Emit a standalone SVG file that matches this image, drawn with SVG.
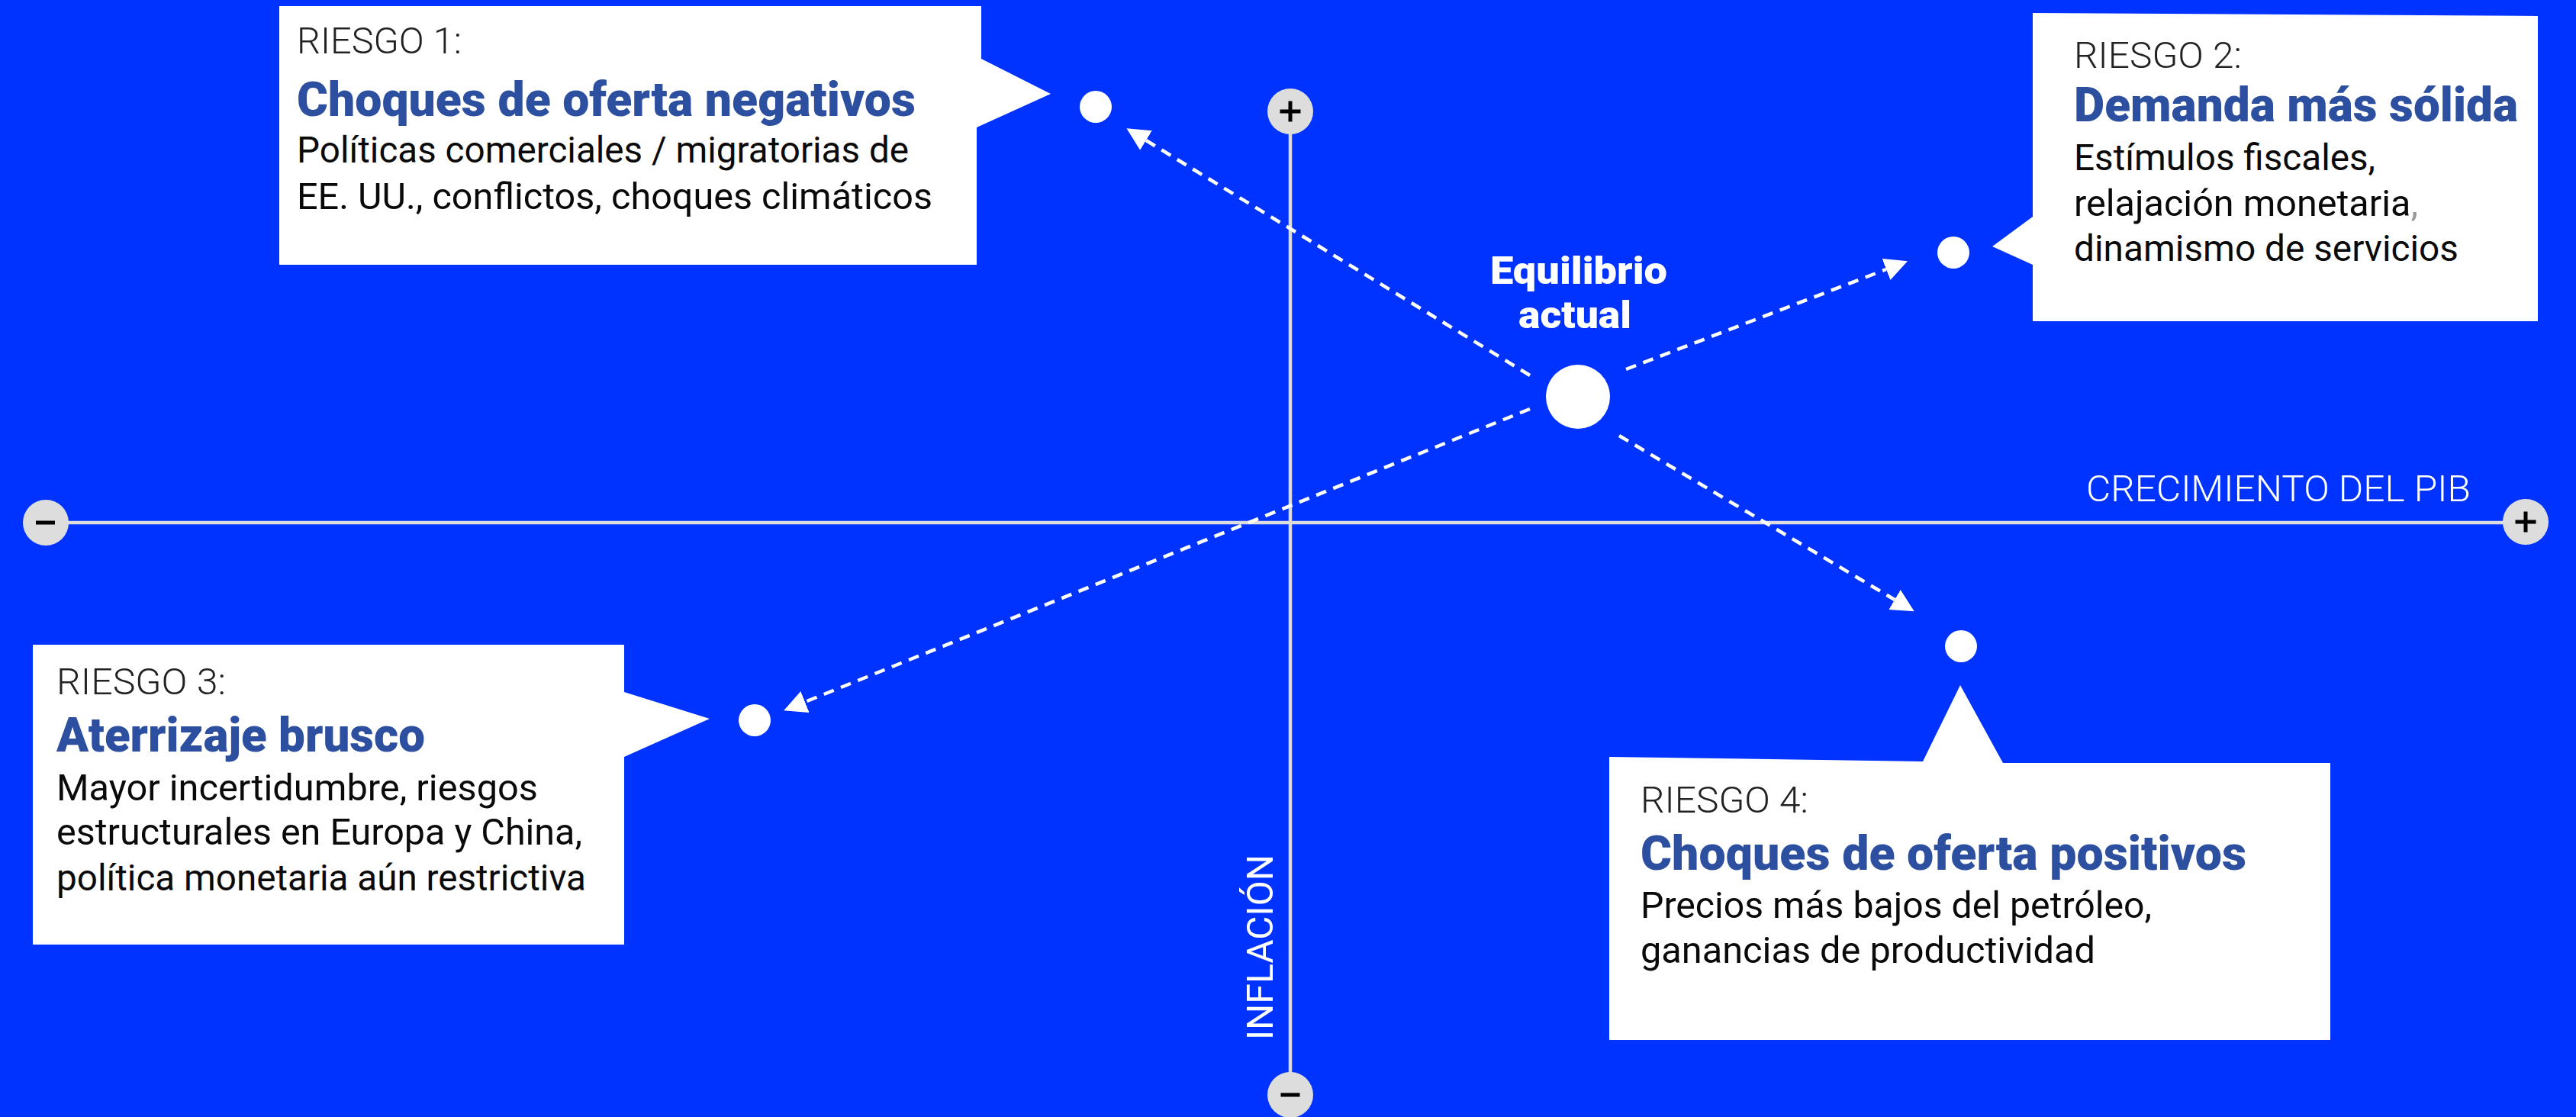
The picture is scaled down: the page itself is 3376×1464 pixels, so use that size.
<svg xmlns="http://www.w3.org/2000/svg" width="3376" height="1464" viewBox="0 0 3376 1464">
<defs>
<style>
.box{fill:#ffffff}
.lbl{font-family:"Liberation Sans Narrow","Roboto","Liberation Sans",sans-serif;font-size:48px;fill:#222222;font-weight:300}
.ttl{font-family:"Liberation Sans Narrow","Roboto","Liberation Sans",sans-serif;font-size:63px;fill:#2D4FA0;font-weight:900}
.body{font-family:"Liberation Sans Narrow","Roboto","Liberation Sans",sans-serif;font-size:48px;fill:#0a0a0a;font-weight:400}
.axis{stroke:#DCDCDC;stroke-width:4.5;fill:none}
.knob{fill:#DDDDDD}
.sign{fill:#000000}
.axlbl{font-family:"Roboto","Liberation Sans",sans-serif;font-size:48px;fill:#ffffff;font-weight:300}
.eq{font-family:"Roboto","Liberation Sans",sans-serif;font-size:50px;fill:#ffffff;font-weight:900}
.dot{fill:#ffffff}
.dash{stroke:#ffffff;stroke-width:4.5;stroke-dasharray:14 10;fill:none}
</style>
<marker id="arr" markerUnits="userSpaceOnUse" markerWidth="32" markerHeight="32" refX="0" refY="15" orient="auto" viewBox="0 0 32 30">
<path d="M0,0 L30,15 L0,30 Z" fill="#ffffff"/>
</marker>
</defs>
<rect width="3376" height="1464" fill="#0033FF"/>

<g id="axes">
<line class="axis" x1="60" y1="685" x2="3310" y2="685"/>
<line class="axis" x1="1691" y1="146" x2="1691" y2="1435"/>
<circle class="knob" cx="60" cy="685" r="30"/>
<rect class="sign" x="47" y="682.5" width="25" height="5"/>
<circle class="knob" cx="3310" cy="684" r="30"/>
<rect class="sign" x="3296.5" y="681.5" width="27" height="5"/>
<rect class="sign" x="3307.5" y="670.5" width="5" height="27"/>
<circle class="knob" cx="1691" cy="146" r="30"/>
<rect class="sign" x="1677.5" y="143.5" width="27" height="5"/>
<rect class="sign" x="1688.5" y="132.5" width="5" height="27"/>
<circle class="knob" cx="1691" cy="1435" r="30"/>
<rect class="sign" x="1678.5" y="1432.5" width="25" height="5"/>
<text class="axlbl" x="2734" y="657" textLength="504" lengthAdjust="spacingAndGlyphs">CRECIMIENTO DEL PIB</text>
<text class="axlbl" transform="translate(1668,1363) rotate(-90)" x="0" y="0" textLength="243" lengthAdjust="spacingAndGlyphs" style="font-weight:400">INFLACIÓN</text>
</g>

<g id="connectors">
<line class="dash" x1="2005" y1="492" x2="1502" y2="184" marker-end="url(#arr)"/>
<line class="dash" x1="2131" y1="484" x2="2472" y2="353" marker-end="url(#arr)"/>
<line class="dash" x1="2005" y1="536" x2="1055" y2="920" marker-end="url(#arr)"/>
<line class="dash" x1="2122" y1="571" x2="2483" y2="786" marker-end="url(#arr)"/>
</g>

<g id="equilibrio">
<circle class="dot" cx="2068" cy="520" r="42"/>
<text class="eq" x="1953" y="372" textLength="232" lengthAdjust="spacingAndGlyphs">Equilibrio</text>
<text class="eq" x="1990" y="430" textLength="148" lengthAdjust="spacingAndGlyphs">actual</text>
</g>

<g id="riesgo1">
<polygon class="box" points="366,8 1286,8 1286,77 1377,123 1280,167 1280,347 366,347"/>
<circle class="dot" cx="1436" cy="140" r="21"/>
<text class="lbl" x="389" y="70" textLength="216" lengthAdjust="spacingAndGlyphs">RIESGO 1:</text>
<text class="ttl" x="389" y="152" textLength="811" lengthAdjust="spacingAndGlyphs">Choques de oferta negativos</text>
<text class="body" x="389" y="213" textLength="802" lengthAdjust="spacingAndGlyphs">Políticas comerciales / migratorias de</text>
<text class="body" x="389" y="274" textLength="833" lengthAdjust="spacingAndGlyphs">EE. UU., conflictos, choques climáticos</text>
</g>

<g id="riesgo2">
<polygon class="box" points="2664,17 3326,21 3326,421 2664,421 2664,347 2611,323 2664,284"/>
<circle class="dot" cx="2560" cy="331" r="21"/>
<text class="lbl" x="2718" y="89" textLength="220" lengthAdjust="spacingAndGlyphs">RIESGO 2:</text>
<text class="ttl" x="2718" y="159" textLength="582" lengthAdjust="spacingAndGlyphs">Demanda más sólida</text>
<text class="body" x="2718" y="223" textLength="395" lengthAdjust="spacingAndGlyphs">Estímulos fiscales,</text>
<text class="body" x="2718" y="283" textLength="451" lengthAdjust="spacingAndGlyphs">relajación monetaria<tspan fill="#999999">,</tspan></text>
<text class="body" x="2718" y="342" textLength="504" lengthAdjust="spacingAndGlyphs">dinamismo de servicios</text>
</g>

<g id="riesgo3">
<polygon class="box" points="43,845 818,845 818,907 930,942 818,992 818,1238 43,1238"/>
<circle class="dot" cx="989" cy="944" r="21"/>
<text class="lbl" x="74" y="910" textLength="222" lengthAdjust="spacingAndGlyphs">RIESGO 3:</text>
<text class="ttl" x="74" y="985" textLength="483" lengthAdjust="spacingAndGlyphs">Aterrizaje brusco</text>
<text class="body" x="74" y="1049" textLength="631" lengthAdjust="spacingAndGlyphs">Mayor incertidumbre, riesgos</text>
<text class="body" x="74" y="1107" textLength="689" lengthAdjust="spacingAndGlyphs">estructurales en Europa y China,</text>
<text class="body" x="74" y="1167" textLength="694" lengthAdjust="spacingAndGlyphs">política monetaria aún restrictiva</text>
</g>

<g id="riesgo4">
<polygon class="box" points="2109,992 2520,998 2569,898 2625,1000 3054,1000 3054,1363 2109,1363"/>
<circle class="dot" cx="2570" cy="847" r="21"/>
<text class="lbl" x="2150" y="1065" textLength="220" lengthAdjust="spacingAndGlyphs">RIESGO 4:</text>
<text class="ttl" x="2150" y="1140" textLength="794" lengthAdjust="spacingAndGlyphs">Choques de oferta positivos</text>
<text class="body" x="2150" y="1203" textLength="670" lengthAdjust="spacingAndGlyphs">Precios más bajos del petróleo,</text>
<text class="body" x="2150" y="1262" textLength="596" lengthAdjust="spacingAndGlyphs">ganancias de productividad</text>
</g>
</svg>
